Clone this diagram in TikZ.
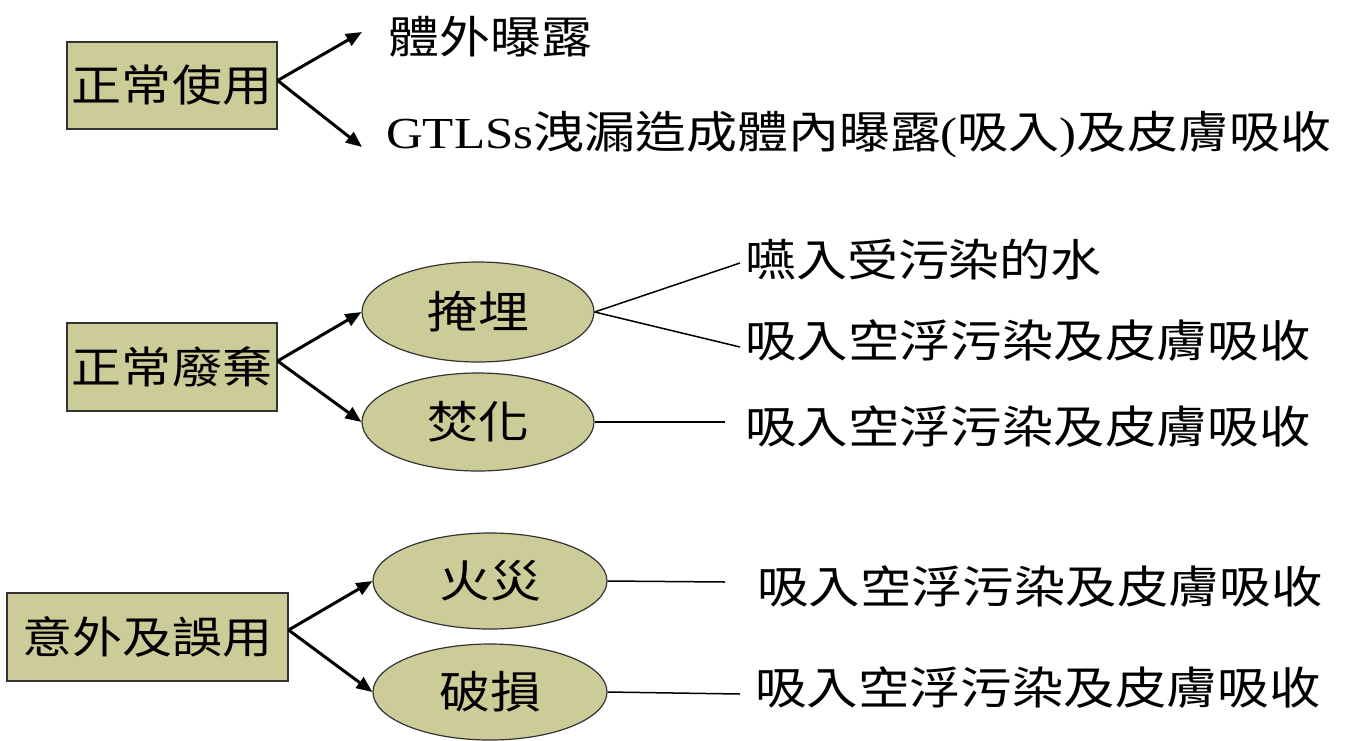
\documentclass[tikz,border=0pt]{standalone}
\usepackage{fontspec}
\setmainfont[FakeStretch=1.15]{Liberation Serif}
\newfontfamily\cjk[FakeStretch=1.15]{Noto Sans CJK TC}
\usetikzlibrary{shapes.geometric,arrows.meta}
\definecolor{khaki}{HTML}{CCCC99}
\tikzset{
  boxnode/.style={draw=black!80, line width=1.2pt, fill=khaki, rectangle, inner sep=0pt, font=\cjk\fontsize{43.5}{50}\selectfont},
  ellnode/.style={draw=black!80, line width=1.2pt, fill=khaki, ellipse, inner sep=0pt, font=\cjk\fontsize{44.3}{50}\selectfont},
  arr/.style={line width=3pt, -{Triangle[length=16pt,width=13pt]}},
  thinline/.style={line width=1.5pt},
  lbl/.style={anchor=west, inner sep=0pt},
  rfont/.style={font=\cjk\fontsize{44.7}{52}\selectfont}
}
\begin{document}
\begin{tikzpicture}[x=1pt,y=-1pt]
\useasboundingbox[fill=white] (0,0) rectangle (1365,740);
% group 1
\node[boxnode, minimum width=210pt, minimum height=87pt] (b1) at (172,85.5) {正常使用};
\coordinate (a1) at (362,32);
\coordinate (a2) at (362,147);
\node[lbl, font=\cjk\fontsize{44.3}{50}\selectfont] (t1) at (388,37) {體外曝露};
\node[lbl, font=\fontsize{44.3}{50}\selectfont] (t2) at (386,135) {GTLSs{\cjk 洩漏造成體內曝露}({\cjk 吸入}){\cjk 及皮膚吸收}};
\draw[arr] ([yshift=5pt]b1.east) -- (a1);
\draw[arr] ([yshift=5pt]b1.east) -- (a2);
% group 2
\node[boxnode, minimum width=210pt, minimum height=88pt] (b2) at (172,367) {正常廢棄};
\node[ellnode, minimum width=232pt, minimum height=100pt] (e1) at (478,312) {掩埋};
\node[ellnode, minimum width=232pt, minimum height=98pt] (e2) at (478,422) {焚化};
\draw[arr] ([yshift=6pt]b2.east) -- (e1.west);
\draw[arr] ([yshift=6pt]b2.east) -- (e2.west);
\coordinate (c1) at (740,263);
\coordinate (c2) at (740,347);
\coordinate (c3) at (725,422);
\draw[thinline] (e1.east) -- (c1);
\draw[thinline] (e1.east) -- (c2);
\draw[thinline] (e2.east) -- (c3);
\node[lbl, font=\cjk\fontsize{44.3}{50}\selectfont] (r1) at (745,260) {嚥入受污染的水};
\node[lbl, rfont] (r2) at (745,341) {吸入空浮污染及皮膚吸收};
\node[lbl, rfont] (r3) at (745,427) {吸入空浮污染及皮膚吸收};
% group 3
\node[boxnode, minimum width=281pt, minimum height=88pt] (b3) at (147.5,637) {意外及誤用};
\node[ellnode, minimum width=234pt, minimum height=96pt] (e3) at (490,581) {火災};
\node[ellnode, minimum width=234pt, minimum height=96pt] (e4) at (490,692) {破損};
\draw[arr] ([yshift=7pt]b3.east) -- (e3.west);
\draw[arr] ([yshift=7pt]b3.east) -- (e4.west);
\coordinate (c4) at (725,582);
\coordinate (c5) at (740,694);
\draw[thinline] (e3.east) -- (c4);
\draw[thinline] (e4.east) -- (c5);
\node[lbl, rfont] (r4) at (757,587) {吸入空浮污染及皮膚吸收};
\node[lbl, rfont] (r5) at (755,688) {吸入空浮污染及皮膚吸收};
\end{tikzpicture}
\end{document}
